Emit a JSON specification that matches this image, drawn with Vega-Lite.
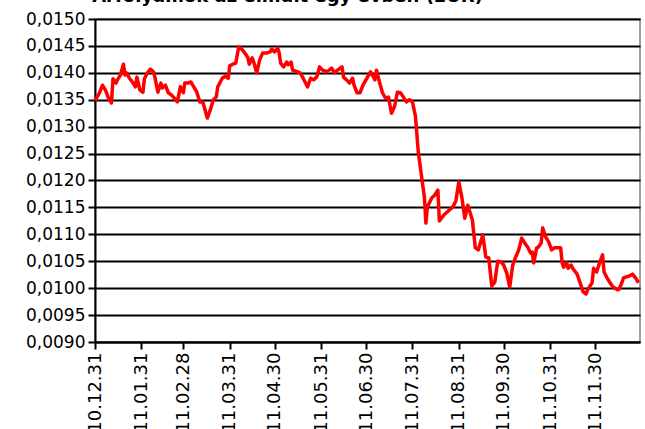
{
  "$schema": "https://vega.github.io/schema/vega-lite/v6.json",
  "width": 545,
  "height": 323,
  "autosize": {"type": "none"},
  "padding": {"top": 19, "left": 95, "right": 5, "bottom": 87},
  "background": "white",
  "title": {"text": "Árfolyamok az elmúlt egy évben (EUR)", "fontSize": 18, "font": "DejaVu Sans", "fontWeight": "bold", "color": "black", "anchor": "middle", "dx": -80, "offset": -14, "baseline": "bottom"},
  "config": {
    "view": {"stroke": "#a0a0a0", "strokeWidth": 2},
    "axis": {"labelFont": "DejaVu Sans", "labelFontSize": 17, "labelColor": "black", "domainColor": "black", "domainWidth": 2, "tickColor": "black", "tickWidth": 2, "tickSize": 7, "title": null}
  },
  "data": {"values": [
    {"date": "2010-12-31", "rate": 0.01348},
    {"date": "2011-01-03", "rate": 0.01363},
    {"date": "2011-01-05", "rate": 0.01377},
    {"date": "2011-01-07", "rate": 0.01368},
    {"date": "2011-01-09", "rate": 0.01353},
    {"date": "2011-01-11", "rate": 0.01344},
    {"date": "2011-01-12", "rate": 0.01389},
    {"date": "2011-01-14", "rate": 0.01381},
    {"date": "2011-01-15", "rate": 0.01387},
    {"date": "2011-01-17", "rate": 0.01396},
    {"date": "2011-01-19", "rate": 0.01416},
    {"date": "2011-01-20", "rate": 0.01396},
    {"date": "2011-01-21", "rate": 0.01400},
    {"date": "2011-01-23", "rate": 0.01390},
    {"date": "2011-01-25", "rate": 0.01383},
    {"date": "2011-01-27", "rate": 0.01374},
    {"date": "2011-01-28", "rate": 0.01392},
    {"date": "2011-01-30", "rate": 0.01368},
    {"date": "2011-02-01", "rate": 0.01364},
    {"date": "2011-02-02", "rate": 0.01389},
    {"date": "2011-02-04", "rate": 0.01400},
    {"date": "2011-02-06", "rate": 0.01407},
    {"date": "2011-02-08", "rate": 0.01402},
    {"date": "2011-02-09", "rate": 0.01392},
    {"date": "2011-02-11", "rate": 0.01364},
    {"date": "2011-02-13", "rate": 0.01381},
    {"date": "2011-02-14", "rate": 0.01372},
    {"date": "2011-02-16", "rate": 0.01377},
    {"date": "2011-02-18", "rate": 0.01363},
    {"date": "2011-02-20", "rate": 0.01359},
    {"date": "2011-02-22", "rate": 0.01353},
    {"date": "2011-02-24", "rate": 0.01346},
    {"date": "2011-02-26", "rate": 0.01374},
    {"date": "2011-02-28", "rate": 0.01363},
    {"date": "2011-03-01", "rate": 0.01381},
    {"date": "2011-03-03", "rate": 0.01381},
    {"date": "2011-03-05", "rate": 0.01383},
    {"date": "2011-03-07", "rate": 0.01374},
    {"date": "2011-03-09", "rate": 0.01364},
    {"date": "2011-03-11", "rate": 0.01346},
    {"date": "2011-03-13", "rate": 0.01346},
    {"date": "2011-03-16", "rate": 0.01316},
    {"date": "2011-03-18", "rate": 0.01331},
    {"date": "2011-03-20", "rate": 0.01350},
    {"date": "2011-03-22", "rate": 0.01355},
    {"date": "2011-03-23", "rate": 0.01374},
    {"date": "2011-03-26", "rate": 0.01390},
    {"date": "2011-03-28", "rate": 0.01394},
    {"date": "2011-03-30", "rate": 0.01390},
    {"date": "2011-03-31", "rate": 0.01413},
    {"date": "2011-04-02", "rate": 0.01416},
    {"date": "2011-04-04", "rate": 0.01418},
    {"date": "2011-04-06", "rate": 0.01448},
    {"date": "2011-04-08", "rate": 0.01444},
    {"date": "2011-04-10", "rate": 0.01437},
    {"date": "2011-04-12", "rate": 0.01429},
    {"date": "2011-04-13", "rate": 0.01416},
    {"date": "2011-04-15", "rate": 0.01428},
    {"date": "2011-04-16", "rate": 0.01420},
    {"date": "2011-04-18", "rate": 0.01400},
    {"date": "2011-04-20", "rate": 0.01424},
    {"date": "2011-04-22", "rate": 0.01437},
    {"date": "2011-04-25", "rate": 0.01437},
    {"date": "2011-04-27", "rate": 0.01439},
    {"date": "2011-04-28", "rate": 0.01444},
    {"date": "2011-04-30", "rate": 0.01439},
    {"date": "2011-05-02", "rate": 0.01446},
    {"date": "2011-05-03", "rate": 0.01437},
    {"date": "2011-05-04", "rate": 0.01418},
    {"date": "2011-05-06", "rate": 0.01411},
    {"date": "2011-05-08", "rate": 0.01420},
    {"date": "2011-05-09", "rate": 0.01415},
    {"date": "2011-05-11", "rate": 0.01420},
    {"date": "2011-05-12", "rate": 0.01405},
    {"date": "2011-05-15", "rate": 0.01402},
    {"date": "2011-05-17", "rate": 0.01400},
    {"date": "2011-05-19", "rate": 0.01390},
    {"date": "2011-05-22", "rate": 0.01374},
    {"date": "2011-05-24", "rate": 0.01390},
    {"date": "2011-05-26", "rate": 0.01387},
    {"date": "2011-05-28", "rate": 0.01392},
    {"date": "2011-05-30", "rate": 0.01411},
    {"date": "2011-06-01", "rate": 0.01405},
    {"date": "2011-06-04", "rate": 0.01402},
    {"date": "2011-06-07", "rate": 0.01409},
    {"date": "2011-06-09", "rate": 0.01400},
    {"date": "2011-06-11", "rate": 0.01405},
    {"date": "2011-06-14", "rate": 0.01411},
    {"date": "2011-06-15", "rate": 0.01392},
    {"date": "2011-06-17", "rate": 0.01387},
    {"date": "2011-06-19", "rate": 0.01381},
    {"date": "2011-06-21", "rate": 0.01390},
    {"date": "2011-06-22", "rate": 0.01377},
    {"date": "2011-06-24", "rate": 0.01363},
    {"date": "2011-06-26", "rate": 0.01363},
    {"date": "2011-06-28", "rate": 0.01377},
    {"date": "2011-07-01", "rate": 0.01392},
    {"date": "2011-07-03", "rate": 0.01402},
    {"date": "2011-07-05", "rate": 0.01392},
    {"date": "2011-07-06", "rate": 0.01387},
    {"date": "2011-07-07", "rate": 0.01405},
    {"date": "2011-07-09", "rate": 0.01383},
    {"date": "2011-07-11", "rate": 0.01363},
    {"date": "2011-07-13", "rate": 0.01353},
    {"date": "2011-07-15", "rate": 0.01355},
    {"date": "2011-07-17", "rate": 0.01325},
    {"date": "2011-07-19", "rate": 0.01337},
    {"date": "2011-07-21", "rate": 0.01364},
    {"date": "2011-07-23", "rate": 0.01363},
    {"date": "2011-07-25", "rate": 0.01355},
    {"date": "2011-07-27", "rate": 0.01346},
    {"date": "2011-07-29", "rate": 0.01350},
    {"date": "2011-07-31", "rate": 0.01346},
    {"date": "2011-08-02", "rate": 0.01320},
    {"date": "2011-08-04", "rate": 0.01251},
    {"date": "2011-08-06", "rate": 0.01210},
    {"date": "2011-08-08", "rate": 0.01169},
    {"date": "2011-08-09", "rate": 0.01121},
    {"date": "2011-08-10", "rate": 0.01151},
    {"date": "2011-08-13", "rate": 0.01168},
    {"date": "2011-08-15", "rate": 0.01173},
    {"date": "2011-08-17", "rate": 0.01182},
    {"date": "2011-08-18", "rate": 0.01125},
    {"date": "2011-08-21", "rate": 0.01136},
    {"date": "2011-08-23", "rate": 0.01141},
    {"date": "2011-08-27", "rate": 0.01151},
    {"date": "2011-08-29", "rate": 0.01162},
    {"date": "2011-08-31", "rate": 0.01197},
    {"date": "2011-09-02", "rate": 0.01169},
    {"date": "2011-09-04", "rate": 0.01130},
    {"date": "2011-09-06", "rate": 0.01154},
    {"date": "2011-09-09", "rate": 0.01127},
    {"date": "2011-09-11", "rate": 0.01075},
    {"date": "2011-09-13", "rate": 0.01071},
    {"date": "2011-09-16", "rate": 0.01099},
    {"date": "2011-09-18", "rate": 0.01058},
    {"date": "2011-09-20", "rate": 0.01056},
    {"date": "2011-09-22", "rate": 0.01004},
    {"date": "2011-09-24", "rate": 0.01011},
    {"date": "2011-09-26", "rate": 0.01050},
    {"date": "2011-09-28", "rate": 0.01049},
    {"date": "2011-09-30", "rate": 0.01043},
    {"date": "2011-10-02", "rate": 0.01028},
    {"date": "2011-10-04", "rate": 0.01002},
    {"date": "2011-10-06", "rate": 0.01043},
    {"date": "2011-10-08", "rate": 0.01058},
    {"date": "2011-10-10", "rate": 0.01071},
    {"date": "2011-10-12", "rate": 0.01093},
    {"date": "2011-10-14", "rate": 0.01084},
    {"date": "2011-10-16", "rate": 0.01076},
    {"date": "2011-10-18", "rate": 0.01065},
    {"date": "2011-10-19", "rate": 0.01067},
    {"date": "2011-10-20", "rate": 0.01047},
    {"date": "2011-10-22", "rate": 0.01075},
    {"date": "2011-10-23", "rate": 0.01076},
    {"date": "2011-10-25", "rate": 0.01084},
    {"date": "2011-10-26", "rate": 0.01112},
    {"date": "2011-10-28", "rate": 0.01095},
    {"date": "2011-10-30", "rate": 0.01086},
    {"date": "2011-11-01", "rate": 0.01071},
    {"date": "2011-11-03", "rate": 0.01075},
    {"date": "2011-11-05", "rate": 0.01075},
    {"date": "2011-11-07", "rate": 0.01075},
    {"date": "2011-11-08", "rate": 0.01047},
    {"date": "2011-11-09", "rate": 0.01039},
    {"date": "2011-11-11", "rate": 0.01047},
    {"date": "2011-11-12", "rate": 0.01037},
    {"date": "2011-11-14", "rate": 0.01043},
    {"date": "2011-11-15", "rate": 0.01037},
    {"date": "2011-11-18", "rate": 0.01026},
    {"date": "2011-11-20", "rate": 0.01010},
    {"date": "2011-11-22", "rate": 0.00993},
    {"date": "2011-11-24", "rate": 0.00989},
    {"date": "2011-11-25", "rate": 0.00997},
    {"date": "2011-11-28", "rate": 0.01010},
    {"date": "2011-11-29", "rate": 0.01037},
    {"date": "2011-12-01", "rate": 0.01030},
    {"date": "2011-12-03", "rate": 0.01047},
    {"date": "2011-12-05", "rate": 0.01062},
    {"date": "2011-12-06", "rate": 0.01030},
    {"date": "2011-12-08", "rate": 0.01019},
    {"date": "2011-12-10", "rate": 0.01010},
    {"date": "2011-12-12", "rate": 0.01002},
    {"date": "2011-12-15", "rate": 0.00997},
    {"date": "2011-12-16", "rate": 0.00998},
    {"date": "2011-12-18", "rate": 0.01011},
    {"date": "2011-12-19", "rate": 0.01019},
    {"date": "2011-12-21", "rate": 0.01021},
    {"date": "2011-12-23", "rate": 0.01023},
    {"date": "2011-12-25", "rate": 0.01026},
    {"date": "2011-12-27", "rate": 0.01019},
    {"date": "2011-12-29", "rate": 0.01010}
  ]},
  "mark": {"type": "line", "color": "#ff0000", "strokeWidth": 3.5, "strokeJoin": "round"},
  "encoding": {
    "x": {
      "field": "date", "type": "temporal",
      "scale": {"type": "utc", "domain": [{"year": 2010, "month": 12, "date": 31, "utc": true}, {"year": 2011, "month": 12, "date": 30, "utc": true}]},
      "axis": {
        "grid": false, "labelAngle": 270, "labelPadding": 3, "labelFontSize": 18,
        "values": [
          {"year": 2010, "month": 12, "date": 31, "utc": true},
          {"year": 2011, "month": 1, "date": 31, "utc": true},
          {"year": 2011, "month": 2, "date": 28, "utc": true},
          {"year": 2011, "month": 3, "date": 31, "utc": true},
          {"year": 2011, "month": 4, "date": 30, "utc": true},
          {"year": 2011, "month": 5, "date": 31, "utc": true},
          {"year": 2011, "month": 6, "date": 30, "utc": true},
          {"year": 2011, "month": 7, "date": 31, "utc": true},
          {"year": 2011, "month": 8, "date": 31, "utc": true},
          {"year": 2011, "month": 9, "date": 30, "utc": true},
          {"year": 2011, "month": 10, "date": 31, "utc": true},
          {"year": 2011, "month": 11, "date": 30, "utc": true}
        ],
        "labelExpr": "utcFormat(datum.value, '%y.%m.%d')",
        "labelOverlap": false
      }
    },
    "y": {
      "field": "rate", "type": "quantitative",
      "scale": {"domain": [0.009, 0.015], "nice": false, "zero": false},
      "axis": {
        "values": [0.009, 0.0095, 0.01, 0.0105, 0.011, 0.0115, 0.012, 0.0125, 0.013, 0.0135, 0.014, 0.0145, 0.015],
        "labelExpr": "replace(format(datum.value, '.4f'), '.', ',')",
        "grid": true, "gridColor": "black", "gridWidth": 2, "gridOpacity": 1,
        "labelPadding": 3, "labelOverlap": false
      }
    }
  }
}
